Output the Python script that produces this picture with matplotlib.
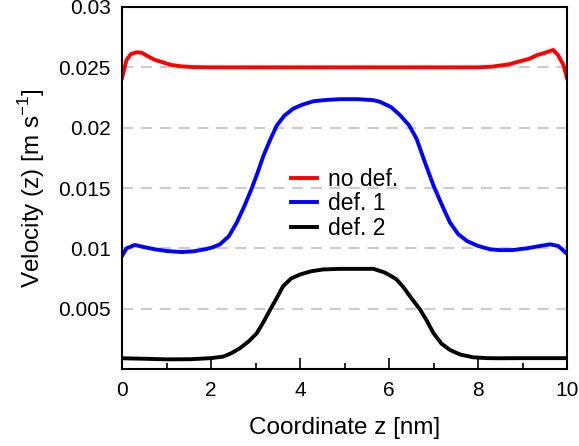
import matplotlib
matplotlib.use("Agg")
import matplotlib.pyplot as plt
from matplotlib.ticker import MultipleLocator

plt.rcParams['font.family'] = ['Liberation Sans', 'DejaVu Sans']

# values
z_red = [0.0, 0.1, 0.2, 0.33, 0.45, 0.59, 0.75, 0.89, 1.1, 1.34, 1.6, 2.0, 3.0, 4.0,
         5.0, 6.0, 7.0, 8.0, 8.3, 8.5, 8.7, 8.94, 9.15, 9.32, 9.5, 9.69, 9.8, 9.92,
         10.0]
v_red = [0.0241, 0.0256, 0.0261, 0.02625, 0.0262, 0.0259, 0.0256, 0.02545, 0.0252,
         0.02508, 0.02502, 0.0250, 0.0250, 0.0250, 0.0250, 0.0250, 0.0250, 0.0250,
         0.02505, 0.02515, 0.02525, 0.0255, 0.0257, 0.0260, 0.0262, 0.02644,
         0.0260, 0.0252, 0.0241]

z_blue = [0.0, 0.1, 0.29, 0.5, 0.74, 1.0, 1.34, 1.6, 1.87, 2.05, 2.2, 2.4, 2.58,
          2.75, 2.91, 3.05, 3.18, 3.33, 3.48, 3.65, 3.85, 4.05, 4.3, 4.6, 4.9, 5.3,
          5.65, 5.8, 6.05, 6.25, 6.45, 6.62, 6.8, 7.0, 7.2, 7.37, 7.55, 7.75, 8.0,
          8.27, 8.5, 8.79, 9.1, 9.4, 9.62, 9.8, 10.0]
v_blue = [0.00936, 0.0100, 0.01028, 0.0101, 0.00992, 0.00978, 0.00969, 0.00975,
          0.00992, 0.0101, 0.01033, 0.0110, 0.01214, 0.0135, 0.01492, 0.0163,
          0.01769, 0.0190, 0.02019, 0.0210, 0.02158, 0.0219, 0.02219, 0.0223,
          0.02236, 0.02236, 0.02228, 0.02214, 0.0217, 0.02103, 0.0202, 0.01908,
          0.0172, 0.0152, 0.0135, 0.01214, 0.0112, 0.01061, 0.0102, 0.00992,
          0.00985, 0.00986, 0.0100, 0.0102, 0.01033, 0.0102, 0.00955]

z_black = [0.0, 0.5, 1.0, 1.53, 2.0, 2.28, 2.45, 2.65, 2.85, 3.03, 3.18, 3.33, 3.48,
           3.62, 3.8, 4.0, 4.25, 4.52, 4.9, 5.3, 5.65, 5.9, 6.05, 6.17, 6.32, 6.47,
           6.6, 6.7, 6.85, 7.0, 7.18, 7.37, 7.6, 7.89, 8.2, 8.49, 9.0, 9.5, 10.0]
v_black = [0.00089, 0.00085, 0.0008, 0.00081, 0.0009, 0.00103, 0.0013, 0.00172,
           0.0023, 0.00297, 0.0039, 0.00492, 0.0059, 0.00686, 0.0075, 0.00783,
           0.0081, 0.00825, 0.0083, 0.0083, 0.0083, 0.0080, 0.0077, 0.00742,
           0.0068, 0.00603, 0.0054, 0.00492, 0.0040, 0.00297, 0.0021, 0.00158,
           0.0012, 0.00097, 0.0009, 0.00089, 0.0009, 0.0009, 0.0009]

labels = ['no def.', 'def. 1', 'def. 2']
colors = ['#ff0000', '#0000ff', '#000000']

fig = plt.figure(figsize=(5.79, 4.46), dpi=100)
ax = fig.add_axes([122 / 579, 1 - 369 / 446, 445 / 579, 362 / 446])

for yv in [0.005, 0.01, 0.015, 0.02, 0.025]:
    ax.axhline(yv, color='#cccccc', lw=1.6, dashes=(5, 3.5), zorder=0)

ax.plot(z_red, v_red, color=colors[0], lw=2.8, label=labels[0])
ax.plot(z_blue, v_blue, color=colors[1], lw=2.8, label=labels[1])
ax.plot(z_black, v_black, color=colors[2], lw=2.8, label=labels[2])

ax.set_xlim(0, 10)
ax.set_ylim(0, 0.03)
ax.xaxis.set_major_locator(MultipleLocator(2))
ax.xaxis.set_minor_locator(MultipleLocator(1))
ax.set_yticks([0.005, 0.01, 0.015, 0.02, 0.025, 0.03])
ax.set_yticklabels(['0.005', '0.01', '0.015', '0.02', '0.025', '0.03'])
ax.tick_params(axis='x', which='major', direction='in', length=8, width=1.2,
               labelsize=15, pad=9)
ax.tick_params(axis='x', which='minor', direction='in', length=4, width=1.2)
ax.tick_params(axis='y', length=0, labelsize=15, pad=8)
for s in ax.spines.values():
    s.set_linewidth(1.5)

ax.set_xlabel('Coordinate z [nm]', fontsize=17.5, labelpad=12)
ax.set_ylabel('Velocity (z) [m s$^{\\mathregular{-1}}$]', fontsize=17.5, labelpad=8)

ax.legend(loc='center', bbox_to_anchor=(0.5, 0.456), frameon=False, fontsize=16.5,
          handlelength=1.15, handletextpad=0.45, labelspacing=0.05)

fig.savefig('out.png', dpi=100)
